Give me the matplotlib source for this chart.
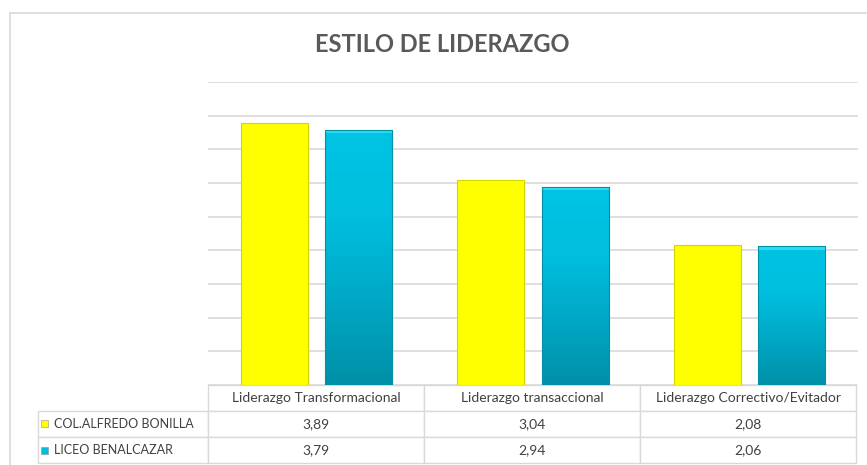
import matplotlib.pyplot as plt
import numpy as np
from matplotlib.patches import Rectangle
from matplotlib.colors import LinearSegmentedColormap
from matplotlib.table import Table

plt.rcParams['font.family'] = ['Lato', 'DejaVu Sans']

categories = ["Liderazgo Transformacional", "Liderazgo transaccional", "Liderazgo Correctivo/Evitador"]
series_names = ["COL.ALFREDO BONILLA", "LICEO BENALCAZAR"]
alfredo = [3.89, 3.04, 2.08]
liceo = [3.79, 2.94, 2.06]
alfredo_labels = ["3,89", "3,04", "2,08"]
liceo_labels = ["3,79", "2,94", "2,06"]

yellow = "#FFFF00"
cyan = "#00BCDD"

fig = plt.figure(figsize=(8.67, 4.65), dpi=100)
# chart border
fig.patches.append(Rectangle((10/867, -0.05), 1.0, 1 - 13/465 + 0.05, transform=fig.transFigure,
                             fill=False, edgecolor="#D9D9D9", linewidth=1.2))

ax = fig.add_axes([208/867, 1 - 385/465, 650/867, 303/465])
x = np.arange(len(categories))
w = 0.31
off = 0.195

ax.set_yticks(np.arange(0, 4.51, 0.5))
ax.yaxis.grid(True, color="#D9D9D9", linewidth=1.2)
ax.set_axisbelow(True)
ax.tick_params(left=False, bottom=False, labelleft=False, labelbottom=False)
for s in ax.spines.values():
    s.set_visible(False)

ax.bar(x - off, alfredo, w, color=yellow, edgecolor="#D4D400", linewidth=0.8, zorder=2)

cmap = LinearSegmentedColormap.from_list("cy", ["#0090A8", "#00A8C5", "#00BFDF", "#00C3E3"])
bars = ax.bar(x + off, liceo, w, color="none", edgecolor="#0090A8", linewidth=0.8, zorder=3)
grad = np.linspace(0, 1, 256).reshape(-1, 1)
for b in bars:
    x0, y0 = b.get_x(), b.get_y()
    im = ax.imshow(grad, cmap=cmap, origin="lower", aspect="auto",
                   extent=(x0, x0 + b.get_width(), y0, y0 + b.get_height()), zorder=2.5)
    im.set_clip_path(b)
    # top bevel
    ax.add_patch(Rectangle((x0, b.get_height() - 0.05), b.get_width(), 0.05,
                           facecolor="#30D8F2", edgecolor="none", zorder=2.6))
ax.set_xlim(-0.5, 2.5)
ax.set_ylim(0, 4.5)

fig.text(442/867, 1 - 45/465, "ESTILO DE LIDERAZGO", ha="center", va="center",
         fontsize=17, fontweight="bold", color="#595959")

# data table under the chart
tab = Table(ax, bbox=[-170/650, -78/303, 818/650, 78/303])
col_w = [170/818, 216/818, 216/818, 216/818]
row_h = 1/3
header = [""] + categories
rows = [header,
        ["    " + series_names[0]] + alfredo_labels,
        ["    " + series_names[1]] + liceo_labels]
for r, row in enumerate(rows):
    for c, txt in enumerate(row):
        cell = tab.add_cell(r, c, col_w[c], row_h, text=txt, loc="left" if c == 0 else "center")
        cell.set_edgecolor("#D9D9D9")
        cell.set_linewidth(1.0)
        cell.PAD = 0.02
        cell.get_text().set_fontsize(9 if c == 0 else 10)
        cell.get_text().set_color("#404040")
tab[0, 0].visible_edges = "BR"
tab[0, 0].set_edgecolor("none")
tab.auto_set_font_size(False)
ax.add_table(tab)

# legend keys in row label cells
key_cols = [yellow, cyan]
key_y = [1 - 423/465, 1 - 450/465]
for ky, kc in zip(key_y, key_cols):
    fig.patches.append(Rectangle((41/867, ky - 3.5/465), 7/867, 7/465, transform=fig.transFigure,
                                 facecolor=kc, edgecolor="#8F8F8F", linewidth=0.4))

fig.savefig("out.png", dpi=100)
